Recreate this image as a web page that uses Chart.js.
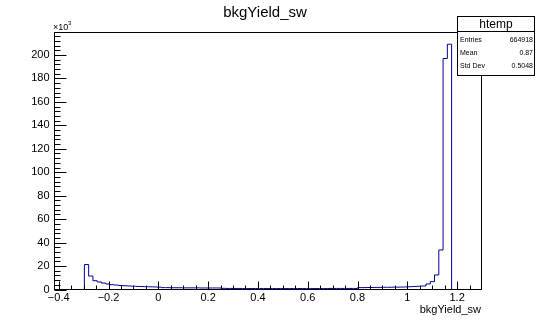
<!DOCTYPE html>
<html>
<head>
<meta charset="utf-8">
<script src="https://cdn.jsdelivr.net/npm/chart.js@4"></script>
<style>
html, body { margin: 0; padding: 0; background: #fff; }
canvas { display: block; }
</style>
</head>
<body>
<canvas id="histo" width="536" height="323"></canvas>
<script>
// --- Data ---
const histTitle = 'bkgYield_sw';
const xAxisTitle = 'bkgYield_sw';
const xMin = -0.417;
const xMax = 1.298;
const yMax = 219.2; // in units of 10^3

// 100 bins, counts in 10^3
const binCounts = [
    0, 0, 0, 0, 0, 0, 0,
    21.3, 11.5, 7.5, 6.4, 5.5, 4.7, 4.1, 3.8, 3.4, 3.2,
    3.0, 2.8, 2.6, 2.5, 2.4, 2.3, 2.2, 2.0,
    1.6, 1.6, 1.5, 1.5, 1.5, 1.4, 1.4, 1.4, 1.4, 1.3, 1.3, 1.3, 1.3, 1.3,
    1.0, 0.9, 0.9, 0.9, 0.9, 0.8, 0.8, 0.8, 0.8, 0.8, 0.8, 0.8, 0.8, 0.8, 0.8, 0.8,
    0.8, 0.8, 0.8, 0.8, 0.8, 0.8, 0.8, 0.8, 0.8, 0.9, 0.9, 0.9, 0.9, 0.9, 0.9, 0.9,
    1.6, 1.6, 1.7, 1.7, 1.8, 1.8, 1.9, 1.9, 2.0, 2.0, 2.1, 2.2,
    2.4, 2.6, 2.8, 3.0, 4.7, 6.7, 12.4, 33.7, 197.0, 209.2,
    0, 0, 0, 0, 0, 0, 0
];

const xTicks = [-0.4, -0.2, 0, 0.2, 0.4, 0.6, 0.8, 1.0, 1.2];
const xTickLabels = ['\u22120.4', '\u22120.2', '0', '0.2', '0.4', '0.6', '0.8', '1', '1.2'];
const yTicks = [0, 20, 40, 60, 80, 100, 120, 140, 160, 180, 200];
const yTickLabels = ['0', '20', '40', '60', '80', '100', '120', '140', '160', '180', '200'];

const statsName = 'htemp';
const statsLabels = ['Entries', 'Mean', 'Std Dev'];
const statsValues = ['664918', '0.87', '0.5048'];

const FONT = '"Liberation Sans", Arial, Helvetica, sans-serif';
const lineColor = '#000099';

// step outline: one point per bin low edge, held until the next edge
const binWidth = (xMax - xMin) / binCounts.length;
const stepPoints = binCounts.map((c, i) => ({ x: xMin + i * binWidth, y: c }));
stepPoints.push({ x: xMax, y: 0 });

// ROOT-like frame, inner ticks, title, stats box
const rootDecor = {
    id: 'rootDecor',
    afterDraw(chart) {
        const ctx = chart.ctx;
        const a = chart.chartArea;
        const xs = chart.scales.x, ys = chart.scales.y;
        ctx.save();
        ctx.strokeStyle = '#000';
        ctx.lineWidth = 1;

        // y ticks (major every 20, minor every 4)
        ctx.beginPath();
        for (let v = 0; v <= yMax + 1e-6; v += 4) {
            const y = Math.round(ys.getPixelForValue(v)) + 0.5;
            const len = (Math.round(v) % 20 === 0) ? 12 : 6;
            ctx.moveTo(a.left, y);
            ctx.lineTo(a.left + len, y);
        }
        // x ticks (major every 0.2, minor every 0.05)
        for (let k = -8; k <= 25; k++) {
            const v = k * 0.05;
            if (v < xMin || v > xMax) continue;
            const x = Math.round(xs.getPixelForValue(v)) + 0.5;
            const len = (k % 4 === 0) ? 8 : 4;
            ctx.moveTo(x, a.bottom);
            ctx.lineTo(x, a.bottom - len);
        }
        ctx.stroke();

        // frame
        ctx.strokeRect(a.left, a.top, a.right - a.left, a.bottom - a.top);

        ctx.fillStyle = '#000';
        // title
        ctx.font = '15px ' + FONT;
        ctx.textAlign = 'center';
        ctx.textBaseline = 'alphabetic';
        ctx.fillText(histTitle, 265, 16.5);

        // x10^3 exponent label
        ctx.textAlign = 'left';
        ctx.font = '9px ' + FONT;
        ctx.fillText('\u00d710', 53, 29.5);
        ctx.font = '6px ' + FONT;
        ctx.fillText('3', 68, 24.5);

        // x axis title
        ctx.font = '11px ' + FONT;
        ctx.textAlign = 'right';
        ctx.fillText(xAxisTitle, 481, 313);

        // stats box
        const bx = 457.5, by = 16.5, bw = 77, bh = 59;
        ctx.fillStyle = '#fff';
        ctx.fillRect(bx, by, bw, bh);
        ctx.strokeRect(bx, by, bw, bh);
        ctx.beginPath();
        ctx.moveTo(bx, 31.5);
        ctx.lineTo(bx + bw, 31.5);
        ctx.stroke();
        ctx.fillStyle = '#000';
        ctx.font = '12px ' + FONT;
        ctx.textAlign = 'center';
        ctx.fillText(statsName, bx + bw / 2, 28);
        ctx.font = '7px ' + FONT;
        const rowBase = [42, 55, 67.5];
        statsLabels.forEach((lab, i) => {
            ctx.textAlign = 'left';
            ctx.fillText(lab, 460, rowBase[i]);
            ctx.textAlign = 'right';
            ctx.fillText(statsValues[i], 533, rowBase[i]);
        });
        ctx.restore();
    }
};

const chart = new Chart(document.getElementById('histo').getContext('2d'), {
    type: 'line',
    data: {
        datasets: [{
            data: stepPoints,
            stepped: 'before',
            borderColor: lineColor,
            borderWidth: 1,
            pointRadius: 0,
            fill: false,
            clip: 2
        }]
    },
    options: {
        responsive: false,
        animation: false,
        devicePixelRatio: 1,
        layout: { padding: { top: 32.5, right: 54.5, left: 0, bottom: 0 } },
        plugins: { legend: { display: false }, tooltip: { enabled: false } },
        scales: {
            x: {
                type: 'linear',
                min: xMin,
                max: xMax,
                grid: { display: false, drawTicks: false },
                border: { display: false },
                afterBuildTicks: s => { s.ticks = xTicks.map(v => ({ value: v })); },
                afterFit: s => { s.height = 33.5; },
                ticks: {
                    autoSkip: false,
                    maxRotation: 0,
                    padding: 2,
                    color: '#000',
                    font: { family: FONT, size: 11 },
                    callback: (v) => {
                        const i = xTicks.findIndex(t => Math.abs(t - v) < 1e-6);
                        return i >= 0 ? xTickLabels[i] : '';
                    }
                }
            },
            y: {
                type: 'linear',
                min: 0,
                max: yMax,
                grid: { display: false, drawTicks: false },
                border: { display: false },
                afterBuildTicks: s => { s.ticks = yTicks.map(v => ({ value: v })); },
                afterFit: s => { s.width = 54.5; },
                ticks: {
                    autoSkip: false,
                    padding: 5,
                    color: '#000',
                    font: { family: FONT, size: 11 },
                    callback: (v) => {
                        const i = yTicks.indexOf(v);
                        return i >= 0 ? yTickLabels[i] : '';
                    }
                }
            }
        }
    },
    plugins: [rootDecor]
});
</script>
</body>
</html>
